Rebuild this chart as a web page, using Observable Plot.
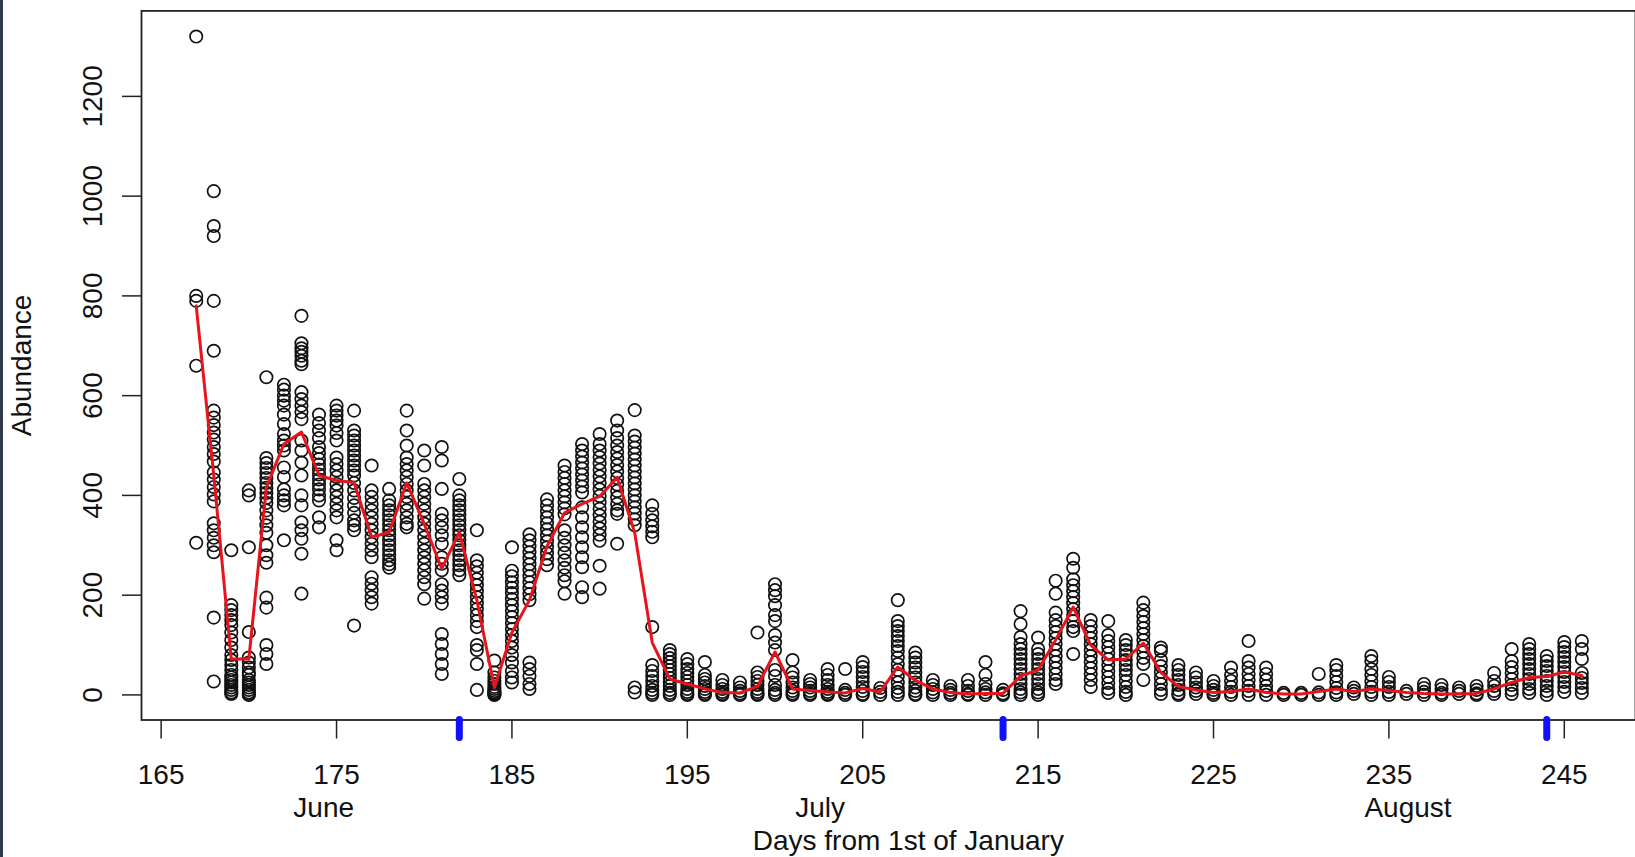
<!DOCTYPE html>
<html>
<head>
<meta charset="utf-8">
<script src="https://cdn.jsdelivr.net/npm/d3@7"></script>
<script src="https://cdn.jsdelivr.net/npm/@observablehq/plot@0.6"></script>
<style>
html,body{margin:0;padding:0;background:#fff;}
#chart{position:relative;width:1635px;height:857px;overflow:hidden;background:#fff;}
#edge{position:absolute;left:0;top:0;width:3px;height:857px;background:#2f3a4c;}
svg{display:block;}
</style>
</head>
<body>
<div id="chart"><div id="edge"></div></div>
<script>
// ---- data ----
const days = [167,168,169,170,171,172,173,174,175,176,177,178,179,180,181,182,183,184,185,186,187,188,189,190,191,192,193,194,195,196,197,198,199,200,201,202,203,204,205,206,207,208,209,210,211,212,213,214,215,216,217,218,219,220,221,222,223,224,225,226,227,228,229,230,231,232,233,234,235,236,237,238,239,240,241,242,243,244,245,246];

const abundance = [
  [1320,800,790,660,305],
  [1010,940,920,790,690,570,556,541,526,512,497,483,468,446,432,417,402,388,344,330,315,300,286,155,27],
  [290,180,170,160,150,140,125,110,95,80,70,60,50,40,35,30,25,20,15,10,5,2],
  [410,400,296,126,75,65,55,45,40,30,25,20,15,10,5,2,0],
  [637,475,465,455,445,435,425,415,405,395,385,370,355,340,325,300,280,265,195,175,100,82,62],
  [622,612,600,590,580,562,543,523,510,500,490,456,437,412,400,390,380,310],
  [760,705,695,688,680,670,663,607,593,580,567,553,510,490,466,440,400,380,346,330,313,283,203],
  [562,545,530,515,497,485,473,462,452,442,432,422,412,400,390,356,336],
  [580,570,560,550,540,525,510,476,463,450,437,423,410,397,383,370,356,310,290],
  [570,530,520,510,500,490,480,470,460,450,440,425,410,395,380,365,350,340,330,139],
  [460,410,397,383,370,356,343,330,316,303,290,276,236,223,210,196,183],
  [413,390,380,370,360,350,340,330,320,310,300,290,280,270,262,255],
  [570,530,500,476,463,450,437,423,410,397,383,370,356,343,336],
  [490,460,423,410,397,383,370,356,343,330,316,303,290,276,263,250,236,222,193],
  [497,470,413,363,350,336,320,303,276,263,250,222,209,196,183,122,102,82,62,42],
  [433,400,390,380,370,360,350,340,330,320,310,300,290,280,270,260,250,240],
  [330,270,258,245,232,220,208,196,184,172,160,148,136,100,90,62,10],
  [69,45,35,28,22,16,12,8,5,3,1,0],
  [296,249,238,226,215,204,192,180,168,156,144,132,120,108,95,80,65,48,35,25],
  [322,310,298,286,274,262,250,238,226,214,202,190,65,52,38,22,12],
  [392,380,368,356,344,332,320,308,296,284,272,260],
  [460,447,435,423,410,398,386,374,362,330,315,300,285,270,255,240,228,203],
  [503,490,478,466,454,442,430,418,406,376,356,336,316,296,276,256,216,196],
  [523,503,490,477,464,451,438,425,412,399,386,373,360,347,334,321,309,259,213],
  [550,530,515,500,487,474,461,448,435,422,409,396,383,370,363,303],
  [571,520,508,496,484,472,460,448,436,424,412,400,388,376,364,352,340,15,5],
  [380,363,350,338,327,316,136,60,48,38,28,18,10,4,0],
  [90,82,74,66,58,50,42,34,26,18,10,4,0],
  [72,62,52,44,36,28,20,12,6,2,0],
  [66,40,32,25,18,12,6,2,0],
  [30,20,12,6,2,0],
  [25,15,8,3,0],
  [125,45,36,28,20,12,6,2,0],
  [222,210,198,180,160,148,120,105,90,50,38,20,10,4,0],
  [70,45,35,25,15,8,3,0],
  [30,22,15,8,3,0],
  [52,40,30,20,12,6,2,0],
  [52,10,4,0],
  [66,56,46,36,26,16,8,2,0],
  [14,6,0],
  [190,148,138,128,118,108,98,88,75,62,50,38,25,14,6,0],
  [85,75,65,55,45,35,25,15,8,2,0],
  [30,20,12,5,0],
  [18,10,4,0],
  [30,18,8,2,0],
  [66,40,22,12,5,0],
  [10,3,0],
  [168,142,116,102,92,82,72,62,52,42,32,22,12,5,0],
  [115,92,82,72,62,52,42,32,22,12,5,0],
  [229,203,165,150,138,126,114,102,90,78,66,54,42,30,22],
  [273,255,232,220,208,196,184,172,160,148,136,128,82],
  [150,138,126,114,102,90,78,66,54,42,30,16],
  [148,120,108,96,84,72,60,48,36,24,12,4],
  [110,100,90,80,70,60,50,40,28,16,6,0],
  [185,170,158,146,134,122,110,98,86,74,62,30],
  [95,88,70,58,46,34,22,10,2],
  [60,50,40,30,20,10,3,0],
  [45,35,25,15,8,2],
  [28,18,10,4,0],
  [55,40,28,16,6,0],
  [108,68,55,42,30,18,8,0],
  [55,42,30,18,8,0],
  [4,0],
  [4,0],
  [42,5,0],
  [60,50,38,26,14,5,0],
  [15,8,2],
  [78,68,52,40,28,16,6,0],
  [36,26,16,6,0],
  [8,2],
  [22,14,6,0],
  [20,12,4,0],
  [15,8,2],
  [18,10,3,0],
  [44,28,18,8,2],
  [92,68,56,44,32,20,10,2],
  [102,92,82,72,62,52,42,32,22,12,4],
  [78,68,58,48,38,28,18,8,0],
  [106,96,86,76,66,56,46,36,26,16,6],
  [108,92,72,44,34,24,14,4]
];

// red line: daily mean
const dailyMean = [780,440,72,72,416,503,527,440,430,426,316,326,425,343,253,326,190,15,125,190,298,365,383,398,436,325,105,32,22,12,5,4,17,86,12,9,6,4,13,6,56,29,12,5,2,3,3,38,50,110,176,100,70,72,104,45,17,10,5,7,12,5,2,2,7,12,7,12,9,5,3,2,2,3,12,25,35,37,46,39];

const xTicks = [165,175,185,195,205,215,225,235,245];
const yTicks = [0,200,400,600,800,1000,1200];
const monthStarts = [182,213,244];
const monthNames = ["June","July","August"];
const monthLabelDays = [174.27,202.57,236.09];
const xTitle = "Days from 1st of January";
const yTitle = "Abundance";
const xTitleDay = 207.6;

// ---- tables ----
const points = days.flatMap((d, i) => abundance[i].map(v => ({day: d, value: v})));
const means = days.map((d, i) => ({day: d, mean: dailyMean[i]}));
const months = monthNames.map((m, i) => ({day: monthLabelDays[i], name: m}));

const FONT = "'Liberation Sans', Arial, Helvetica, sans-serif";

const chart = Plot.plot({
  width: 1635,
  height: 857,
  marginLeft: 141,
  marginRight: 0,
  marginTop: 10.4,
  marginBottom: 137.5,
  style: {fontFamily: FONT, fontSize: "28px", background: "transparent", color: "#111", overflow: "visible"},
  x: {domain: [163.88, 249.06], axis: null},
  y: {domain: [-50.3, 1371.4], axis: null},
  marks: [
    Plot.dot(points, {x: "day", y: "value", r: 6.2, stroke: "#111", strokeWidth: 1.7, fill: "none"}),
    Plot.line(means, {x: "day", y: "mean", stroke: "#e8141c", strokeWidth: 3, curve: "linear"}),
    Plot.frame({stroke: "#222", strokeWidth: 1.8}),
    Plot.axisX({ticks: xTicks, tickSize: 19, tickPadding: 25, tickFormat: d => String(d), label: null, fontSize: 28, stroke: "#222", strokeWidth: 1.5}),
    Plot.axisX({ticks: monthStarts, tickSize: 18, tickFormat: () => "", label: null, stroke: "#1010ff", strokeWidth: 7, strokeLinecap: "round"}),
    Plot.axisY({ticks: yTicks, tickSize: 19, tickFormat: () => "", label: null, stroke: "#222", strokeWidth: 1.5}),
    Plot.text(yTicks, {y: d => d, text: d => String(d), frameAnchor: "left", dx: -48.4, rotate: -90, textAnchor: "middle", lineAnchor: "middle", fontSize: 28, fill: "#111"}),
    Plot.text(months, {x: "day", text: "name", frameAnchor: "bottom", dy: 88.5, textAnchor: "middle", lineAnchor: "middle", fontSize: 28, fill: "#111"}),
    Plot.text([xTitle], {x: xTitleDay, text: d => d, frameAnchor: "bottom", dy: 121.5, textAnchor: "middle", lineAnchor: "middle", fontSize: 28, fill: "#111"}),
    Plot.text([yTitle], {text: d => d, frameAnchor: "left", dx: -119, rotate: -90, textAnchor: "middle", lineAnchor: "middle", fontSize: 28, fill: "#111"})
  ]
});
chart.style.position = "absolute";
chart.style.left = "0px";
chart.style.top = "0px";
document.getElementById("chart").appendChild(chart);
</script>
</body>
</html>
